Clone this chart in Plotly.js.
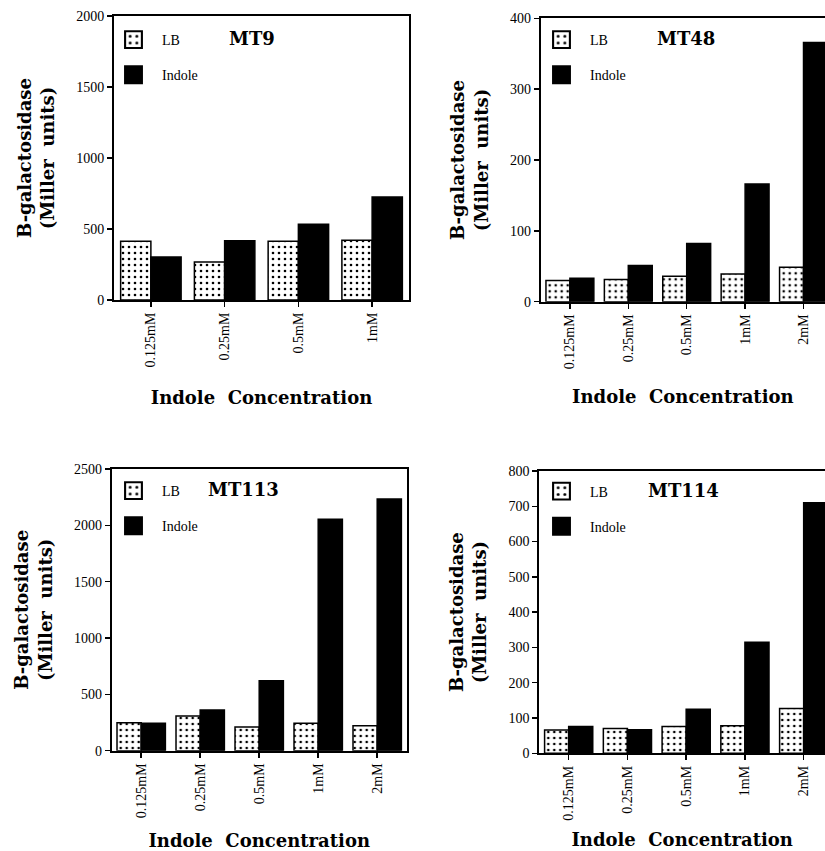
<!DOCTYPE html>
<html>
<head>
<meta charset="utf-8">
<script src="https://cdn.plot.ly/plotly-3.0.1.min.js"></script>
<style>html,body{margin:0;padding:0;background:#fff;}#chart{width:825px;height:851px;}</style>
</head>
<body>
<div id="chart"></div>
<script>
// ---- data ----
var categories4 = ['0.125mM', '0.25mM', '0.5mM', '1mM'];
var categories5 = ['0.125mM', '0.25mM', '0.5mM', '1mM', '2mM'];
var seriesNames = ['LB', 'Indole'];
var panelTitles = ['MT9', 'MT48', 'MT113', 'MT114'];

var mt9LB = [414, 268, 414, 421];
var mt9Indole = [303, 418, 533, 726];
var mt48LB = [30, 31.5, 36, 39, 48.5];
var mt48Indole = [33, 51, 82, 166, 366];
var mt113LB = [249, 308, 210, 243, 222];
var mt113Indole = [243, 361, 621, 2053, 2234];
var mt114LB = [66, 70, 76, 78, 127];
var mt114Indole = [76, 67, 125, 315, 710];

var yRanges = [[0, 2000], [0, 400], [0, 2500], [0, 800]];
var yDticks = [500, 100, 500, 100];

// ---- build ----
var serif = 'Liberation Serif';
var boldSerif = 'DejaVu Serif';
var panels = [
  {cats: categories4, lb: mt9LB, ind: mt9Indole},
  {cats: categories5, lb: mt48LB, ind: mt48Indole},
  {cats: categories5, lb: mt113LB, ind: mt113Indole},
  {cats: categories5, lb: mt114LB, ind: mt114Indole}
];
var traces = [];
panels.forEach(function (p, i) {
  var ax = i === 0 ? '' : String(i + 1);
  var lg = i === 0 ? 'legend' : 'legend' + (i + 1);
  traces.push({
    type: 'bar', name: seriesNames[0], x: p.cats, y: p.lb,
    xaxis: 'x' + ax, yaxis: 'y' + ax, legend: lg, legendgroup: 'lb' + i,
    marker: {color: 'white', line: {color: 'black', width: 1.5},
      pattern: {shape: '.', fgcolor: 'black', bgcolor: 'white', size: 6, solidity: 0.15}}
  });
  traces.push({
    type: 'bar', name: seriesNames[1], x: p.cats, y: p.ind,
    xaxis: 'x' + ax, yaxis: 'y' + ax, legend: lg, legendgroup: 'ind' + i,
    marker: {color: 'black', line: {color: 'black', width: 1.5}}
  });
});

var W = 825, H = 851;
function px(x) { return x / W; }
function py(y) { return 1 - y / H; }

var dom = [
  {x: [114, 409], y: [16, 300], xr: [-0.5, 3.5], mirrorY: true, xs: 25},
  {x: [540.7, 825], y: [18.3, 301.7], xr: [-0.5, 4.368], mirrorY: false, xs: 22},
  {x: [111.7, 406.7], y: [469, 750.7], xr: [-0.5, 4.5], mirrorY: true, xs: 19},
  {x: [539.3, 825], y: [471, 753.3], xr: [-0.5, 4.363], mirrorY: false, xs: 14}
];

var layout = {
  width: W, height: H,
  margin: {l: 0, r: 0, t: 0, b: 0},
  paper_bgcolor: 'white', plot_bgcolor: 'white',
  font: {family: serif, color: 'black', size: 13},
  barmode: 'group', bargap: 0.18, bargroupgap: 0,
  annotations: [], showlegend: true
};

var legendPos = [[105, 24], [533, 24], [105, 475], [533, 475.5]];
var titlePos = [[252.5, 38.5], [686, 38], [243, 489.5], [683.5, 490.5]];

dom.forEach(function (d, i) {
  var ax = i === 0 ? '' : String(i + 1);
  layout['xaxis' + ax] = {
    domain: [px(d.x[0]), px(d.x[1])],
    anchor: 'y' + ax, type: 'category', range: d.xr,
    showline: true, linewidth: 2, linecolor: 'black', mirror: true,
    ticks: 'outside', ticklen: 5, tickwidth: 1.5, tickcolor: 'black',
    tickangle: -90, tickfont: {size: 14, family: serif},
    showgrid: false, zeroline: false, fixedrange: true,
    title: {text: 'Indole\u00A0\u00A0Concentration', standoff: d.xs,
      font: {size: 18, family: boldSerif, weight: 700}}
  };
  layout['yaxis' + ax] = {
    domain: [py(d.y[1]), py(d.y[0])],
    anchor: 'x' + ax, range: yRanges[i], dtick: yDticks[i],
    showline: true, linewidth: 2, linecolor: 'black', mirror: d.mirrorY,
    ticks: 'outside', ticklen: 5, tickwidth: 1.5, tickcolor: 'black',
    tickfont: {size: 14, family: serif},
    showgrid: false, zeroline: false, fixedrange: true,
    title: {text: 'B-galactosidase<br>(Miller\u00A0\u00A0units)', standoff: 17,
      font: {size: 18, family: boldSerif, weight: 700}}
  };
  var lg = i === 0 ? 'legend' : 'legend' + (i + 1);
  layout[lg] = {
    x: px(legendPos[i][0]), y: py(legendPos[i][1]), xanchor: 'left', yanchor: 'top',
    bgcolor: 'rgba(0,0,0,0)', borderwidth: 0, itemwidth: 47,
    tracegroupgap: 14, font: {size: 14, family: serif}, itemclick: false, itemdoubleclick: false
  };
  layout.annotations.push({
    xref: 'paper', yref: 'paper', x: px(titlePos[i][0]), y: py(titlePos[i][1]),
    xanchor: 'center', yanchor: 'middle', showarrow: false,
    text: panelTitles[i], font: {size: 18, family: boldSerif, weight: 700}
  });
});

Plotly.newPlot('chart', traces, layout, {displayModeBar: false, staticPlot: true}).then(function () {
  // enlarge legend swatches to match the reference's larger boxes
  document.querySelectorAll('g.legendpoints path').forEach(function (p) {
    var t = p.getAttribute('transform') || '';
    p.setAttribute('transform', t + ' scale(1.4)');
  });
});
</script>
</body>
</html>
